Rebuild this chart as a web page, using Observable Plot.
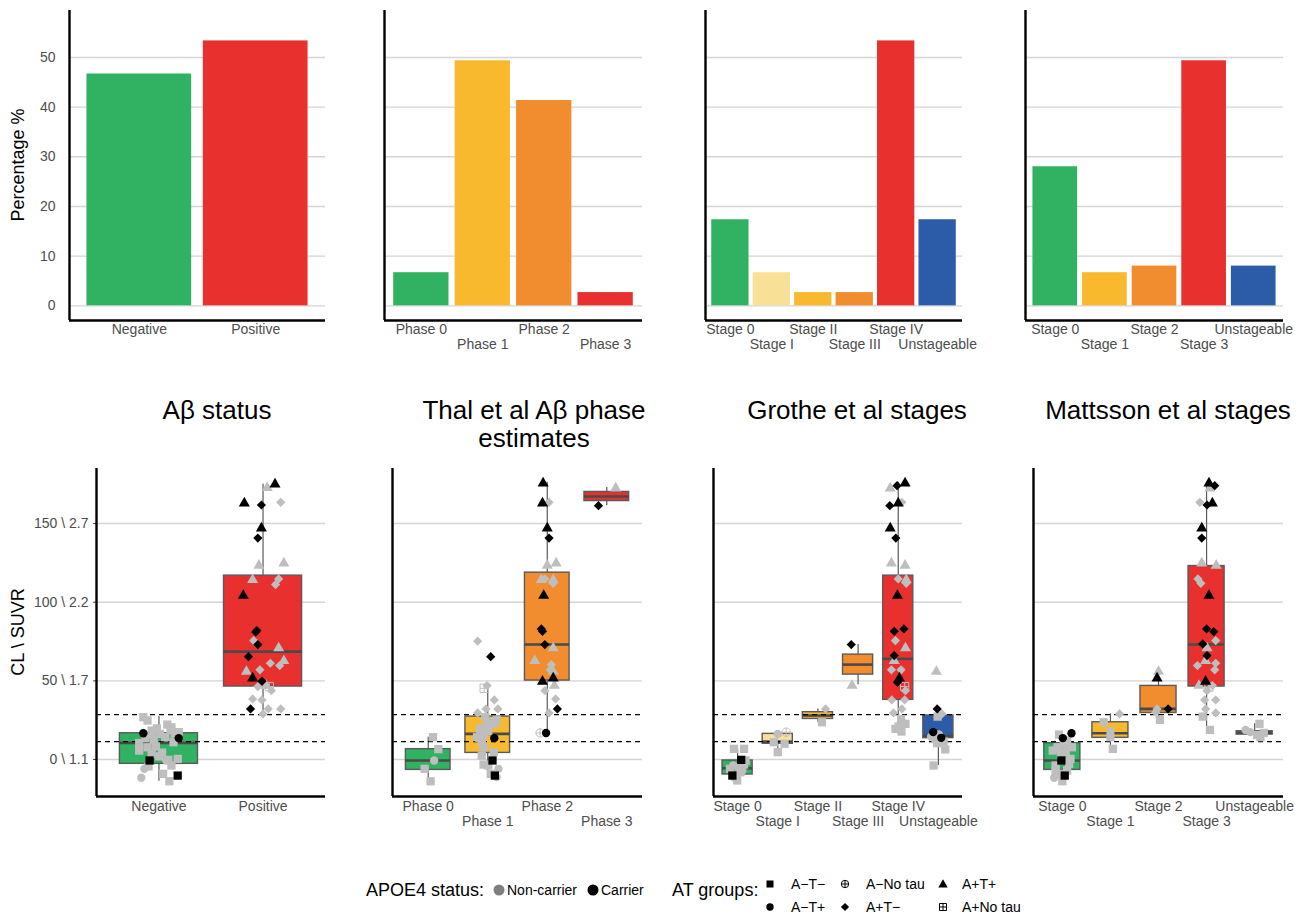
<!DOCTYPE html>
<html><head><meta charset="utf-8">
<script src="https://cdn.jsdelivr.net/npm/d3@7"></script>
<script src="https://cdn.jsdelivr.net/npm/@observablehq/plot@0.6"></script>
<style>
body{margin:0;background:#fff;font-family:"Liberation Sans",Arial,sans-serif;}
#root{position:relative;width:1313px;height:914px;overflow:hidden;}
.title{position:absolute;font-size:26px;line-height:28px;color:#000;text-align:center;transform:translateX(-50%);white-space:nowrap;}
.ytitle{position:absolute;font-size:18px;color:#000;white-space:nowrap;transform:translate(-50%,-50%) rotate(-90deg);}
.lg{position:absolute;white-space:nowrap;color:#000;transform:translateY(-50%);}
.lgt{font-size:18px;}
.lgl{font-size:14px;}
.lgs{position:absolute;transform:translate(-50%,-50%);}
</style></head><body><div id="root"></div>
<script>
// ---------------- DATA ----------------
// Top row: percentage of subjects per category
const abCats = ["Negative", "Positive"];
const abPct = [46.67, 53.33];
const thalCats = ["Phase 0", "Phase 1", "Phase 2", "Phase 3"];
const thalPct = [6.67, 49.33, 41.33, 2.67];
const grotheCats = ["Stage 0", "Stage I", "Stage II", "Stage III", "Stage IV", "Unstageable"];
const grothePct = [17.33, 6.67, 2.67, 2.67, 53.33, 17.33];
const mattCats = ["Stage 0", "Stage 1", "Stage 2", "Stage 3", "Unstageable"];
const mattPct = [28.0, 6.67, 8.0, 49.33, 8.0];

// Bottom row: box statistics (Centiloid)
const abQ1 = [-2.75, 46.4], abMed = [10.6, 68.6], abQ3 = [16.7, 116.9], abLo = [-13.8, 29], abHi = [27.3, 175];
const thalQ1 = [-6.6, 4.2, 50.2, 164.3], thalMed = [-0.6, 16.3, 73.1, 167.2], thalQ3 = [6.6, 27.3, 118.8, 170.1], thalLo = [-13.8, -11.6, 16.9, 161.4], thalHi = [14.2, 46.4, 176.2, 173];
const grotheQ1 = [-9.5, 10, 25.8, 54, 37.9, 13.6], grotheMed = [-5.5, 11.4, 27.95, 60.35, 64, 15], grotheQ3 = [-0.6, 16.3, 30.1, 66.7, 116.9, 28], grotheLo = [-14.4, 4.7, 23.7, 47.6, 17.8, -3.8], grotheHi = [6.8, 17.4, 32.2, 73.1, 176.2, 32.2];
const mattQ1 = [-6.6, 13.8, 29.6, 46.4, 15.9], mattMed = [-0.6, 16.7, 32.2, 73.1, 16.9], mattQ3 = [10.4, 23.7, 46.8, 123, 18], mattLo = [-13.8, 6.8, 25.2, 18.8, 14.2], mattHi = [16.7, 29, 56.5, 176.2, 22.7];

// Thresholds (dashed lines) and CL \ SUVR tick labels
const thresholds = [11.4, 28.6];
const clTicks = [0, 50, 100, 150];
const clTickLabels = ["0 \\ 1.1", "50 \\ 1.7", "100 \\ 2.2", "150 \\ 2.7"];
const pctTicks = [0, 10, 20, 30, 40, 50];

// Subjects: [category (1-based), jitter offset, CL, AT group, APOE4 carrier]
// AT: S=A−T−, C=A−T+, O=A−No tau, D=A+T−, T=A+T+, B=A+No tau
const abPts = [
[1,-0.15,26.9,"S",0],[1,-0.11,24.8,"S",0],[1,-0.07,18.4,"S",0],[1,0.08,22.2,"S",0],[1,0.11,18.8,"S",0],[1,0.19,17.4,"S",0],
[1,-0.15,16.7,"C",1],[1,0.19,13.6,"C",1],[1,-0.19,10.4,"S",0],[1,-0.19,5.7,"S",0],[1,-0.05,12.5,"S",0],[1,-0.03,8.3,"S",0],
[1,0.03,4.4,"S",0],[1,0.14,11,"S",0],[1,0.06,14.2,"S",0],[1,-0.07,15.9,"C",0],[1,0.09,-0.2,"S",0],[1,0.18,0.4,"S",0],
[1,0.07,-0.6,"C",0],[1,-0.09,-0.6,"S",1],[1,-0.1,-4.4,"S",0],[1,-0.14,-5.9,"C",0],[1,0.12,-3.8,"S",0],[1,0.04,-9.1,"S",0],
[1,0.1,-13.8,"S",0],[1,0.18,-10.2,"S",1],[1,-0.17,-11.6,"C",0],[1,0.01,16.3,"S",0],[1,0.15,16.5,"S",0],[1,-0.11,7.8,"S",0],
[1,-0.07,3.6,"S",0],[1,0.12,20.5,"S",0],[1,-0.02,19.8,"S",0],[1,0.0,2,"S",0],[1,-0.13,13.5,"S",0],
[2,-0.18,163.5,"T",1],[2,0.115,175.6,"T",1],[2,0.04,173.4,"T",0],[2,-0.016,161.8,"D",1],[2,0.17,163.5,"D",0],[2,-0.016,147.6,"T",1],
[2,-0.05,140.8,"D",1],[2,-0.04,123.9,"T",0],[2,0.2,125.4,"T",0],[2,-0.1,114.8,"T",0],[2,0.15,114.8,"D",0],[2,0.12,111.2,"D",0],
[2,-0.19,104.8,"T",1],[2,-0.06,82,"D",1],[2,-0.07,81,"D",1],[2,-0.09,75.6,"D",0],[2,-0.05,73.1,"D",1],[2,0.15,71.4,"T",0],
[2,-0.14,65.4,"D",1],[2,-0.03,57,"D",0],[2,-0.16,56.5,"T",0],[2,0.07,61.2,"D",0],[2,0.2,63.3,"T",0],[2,0.16,59.7,"D",0],
[2,-0.1,52.3,"T",1],[2,-0.01,49.8,"D",1],[2,0.06,46.4,"B",0],[2,-0.05,46.4,"D",0],[2,0.08,43.8,"D",0],[2,-0.1,38.5,"D",0],
[2,-0.01,37.9,"D",0],[2,-0.12,32.2,"D",1],[2,0.05,32.2,"D",0],[2,0.17,32.2,"D",0],[2,0,29,"D",0],[2,0.03,47.5,"T",0]
];
const thalPts = [
[1,0.08,14.2,"S",0],[1,0.17,6.6,"S",0],[1,0.1,-0.6,"C",0],[1,-0.06,-5.9,"S",0],[1,0.04,-13.8,"S",0],
[2,-0.17,75.2,"D",0],[2,0.05,65.4,"D",1],[2,-0.06,45.3,"B",0],[2,-0.01,47,"D",0],[2,0.11,37.9,"D",0],[2,-0.03,32.2,"D",0],
[2,0.17,32.2,"D",0],[2,-0.17,29.6,"D",0],[2,-0.04,26.9,"S",0],[2,0.15,25.2,"S",0],[2,0.07,23.7,"S",0],[2,-0.13,19.5,"S",0],
[2,-0.07,16.3,"S",0],[2,-0.14,13.8,"S",0],[2,0.01,18,"S",0],[2,0.11,13.6,"C",1],[2,-0.07,7.8,"S",0],[2,-0.1,11,"S",0],
[2,0.1,4.7,"S",0],[2,0.08,-0.6,"S",1],[2,-0.07,-3.2,"S",0],[2,0.01,-3.8,"S",0],[2,0.18,-5.9,"C",0],[2,0.05,-9.1,"S",0],
[2,0.12,-10.2,"S",1],[2,0.15,-11.2,"C",0],[2,-0.18,14.2,"S",0],[2,-0.02,21.6,"S",0],[2,0.11,22.7,"S",0],[2,-0.1,2.5,"S",0],
[3,-0.07,176.2,"T",1],[3,-0.08,163.5,"T",1],[3,0.03,163.5,"D",0],[3,0,147.6,"T",1],[3,0.03,140.8,"D",1],[3,0,123.9,"T",0],
[3,0.15,125.4,"T",0],[3,-0.1,114.8,"T",0],[3,0.1,114.8,"T",0],[3,0.1,112,"D",0],[3,-0.04,114.8,"D",0],[3,-0.06,104.8,"T",1],
[3,-0.1,83,"D",1],[3,-0.08,81.5,"D",1],[3,-0.04,73.1,"D",1],[3,0.1,71.4,"T",0],[3,-0.21,63.3,"T",0],[3,0.07,60.4,"D",0],
[3,0.05,57,"D",0],[3,0.1,56.5,"T",0],[3,-0.08,50.2,"T",1],[3,0.1,52.3,"T",1],[3,0.12,47.6,"T",0],[3,-0.04,43.8,"D",0],
[3,0.14,38.5,"D",0],[3,0.17,32.2,"D",1],[3,0.03,29.6,"D",0],[3,-0.12,16.9,"O",0],[3,-0.02,16.9,"C",1],
[4,0.15,173,"T",0],[4,-0.14,161.4,"D",1]
];
const grothePts = [
[1,-0.09,6.8,"S",0],[1,0.16,6.8,"S",0],[1,0.09,-0.2,"S",1],[1,-0.11,-3.8,"C",0],[1,0.03,-4.9,"S",0],[1,0.16,-3.2,"S",0],
[1,-0.13,-10.2,"S",1],[1,-0.01,-13.3,"S",0],[1,0.07,-8.1,"S",0],[1,-0.19,-5.9,"S",0],[1,0.12,-7,"C",0],[1,-0.05,-11.2,"S",0],[1,0.2,-0.6,"S",0],
[2,0,16.3,"C",0],[2,0.21,17.4,"O",0],[2,-0.1,11,"S",0],[2,0.17,10,"S",0],[2,0,4.7,"S",0],
[3,0.19,32.2,"D",0],[3,0.1,23.7,"S",0],
[4,-0.17,73.1,"D",1],[4,-0.15,47.6,"T",0],
[5,0.17,176.2,"T",1],[5,-0.03,174.1,"D",1],[5,-0.2,173,"T",0],[5,-0.21,161.4,"D",1],[5,0,163.5,"T",1],[5,0.09,163.5,"D",0],
[5,-0.2,147.6,"T",1],[5,-0.06,140.8,"D",1],[5,-0.17,125.4,"T",0],[5,0.17,123.9,"T",0],[5,0,114.8,"D",0],[5,0.2,112,"D",0],
[5,0.2,114.8,"T",0],[5,-0.02,104.8,"T",1],[5,-0.1,81.5,"D",1],[5,0.14,83,"D",1],[5,-0.07,75.6,"D",0],[5,0.18,71.4,"T",0],
[5,-0.1,66.1,"D",1],[5,-0.1,63.3,"T",0],[5,-0.17,57,"D",0],[5,0.07,57,"D",0],[5,0.03,52.3,"T",1],[5,-0.02,49.1,"D",1],
[5,0.16,46.4,"B",0],[5,0.18,43.8,"D",0],[5,-0.16,37.9,"D",0],[5,0.16,37.9,"D",0],[5,0.09,32.2,"D",0],[5,-0.12,29.6,"D",0],
[5,0.07,25.8,"S",0],[5,0.18,22.7,"S",0],[5,-0.07,19.5,"S",0],[5,0.08,17.8,"S",0],[5,0.01,21,"S",0],
[6,-0.05,56.5,"T",0],[6,-0.03,32.2,"D",1],[6,-0.02,27.3,"S",0],[6,0.09,29,"D",0],[6,-0.13,17.4,"C",1],[6,0.07,13.8,"C",1],
[6,-0.18,14.6,"C",0],[6,-0.03,10.4,"S",0],[6,0.17,6.4,"S",0],[6,-0.12,-3.8,"S",0],[6,0.01,16,"C",0],[6,-0.07,13.2,"S",0],[6,0.13,11.5,"S",0]
];
const mattPts = [
[1,0.19,16.7,"C",1],[1,0.01,13.6,"C",1],[1,-0.07,15.9,"S",0],[1,0.1,12.1,"S",0],[1,-0.1,7.8,"S",0],[1,0.07,4.7,"S",0],
[1,0.17,0.4,"S",0],[1,-0.02,-0.6,"S",1],[1,0.14,-2.8,"S",0],[1,-0.14,-3.8,"S",0],[1,0.1,-7,"S",0],[1,-0.14,-7,"S",0],
[1,0.05,-10.2,"S",1],[1,-0.17,-11.6,"C",0],[1,0,-13.8,"S",0],[1,-0.03,3.6,"S",0],[1,-0.2,5.7,"S",0],[1,0.2,7.8,"S",0],
[1,0.03,10,"S",0],[1,0.1,-0.6,"C",0],[1,-0.07,-9.1,"S",0],
[2,0.19,29,"D",0],[2,-0.14,23.7,"S",0],[2,0,18,"C",0],[2,0,14.2,"S",0],[2,0.05,6.8,"S",0],
[3,0,56.5,"T",0],[3,-0.03,52.3,"T",1],[3,-0.03,32.2,"D",0],[3,0.2,32.2,"D",1],[3,0.03,25.2,"S",0],[3,-0.06,30.1,"D",0],
[4,0.05,176.2,"T",1],[4,0.17,174.1,"D",1],[4,0.07,173,"T",0],[4,-0.14,163.5,"D",0],[4,0.01,161.8,"D",1],[4,0.12,163.5,"T",1],
[4,-0.1,147.6,"T",1],[4,-0.1,140.8,"D",1],[4,-0.1,125.4,"T",0],[4,0.2,123.9,"T",0],[4,-0.18,114.8,"D",0],[4,-0.12,112,"D",0],
[4,0.05,104.8,"T",1],[4,0,83,"D",1],[4,0.15,81.3,"D",1],[4,0.19,75.6,"D",0],[4,-0.08,73.5,"D",1],[4,0.01,71.4,"T",0],
[4,0.01,66.1,"D",1],[4,-0.02,63.3,"T",0],[4,0.19,61.2,"D",0],[4,-0.19,59.7,"D",0],[4,0.17,57,"D",0],[4,-0.02,50.2,"T",1],
[4,-0.16,47.6,"T",0],[4,0.05,46,"B",0],[4,0.12,47,"D",0],[4,0.01,43.8,"D",0],[4,0.19,37.9,"D",0],[4,-0.04,37.9,"D",0],
[4,-0.02,32.2,"D",0],[4,0.19,29.6,"D",0],[4,-0.08,27.3,"S",0],[4,0.07,18.8,"S",0],
[5,0.1,22.7,"S",0],[5,-0.19,18.8,"C",0],[5,-0.09,17.4,"C",0],[5,0.12,14.2,"S",0],[5,0.19,16.9,"S",0],[5,0.05,15.6,"S",0]
];

// ---------------- STYLE ----------------
const GREEN = "#31b262", RED = "#e8312f", YELLOW = "#f8b92e", ORANGE = "#f18c2f", PALE = "#f8e196", BLUE = "#2c5ba8";
const abColors = [GREEN, RED];
const thalColors = [GREEN, YELLOW, ORANGE, RED];
const grotheColors = [GREEN, PALE, YELLOW, ORANGE, RED, BLUE];
const mattColors = [GREEN, YELLOW, ORANGE, RED, BLUE];
const PT_GRAY = "#bebebe";
const FONT = "'Liberation Sans', Arial, sans-serif";
const TICK_FS = 14;

const SYM = {
  S: {draw(c, s){ const r = Math.sqrt(s/Math.PI)*0.9; c.rect(-r,-r,2*r,2*r); }},
  C: {draw(c, s){ const r = Math.sqrt(s/Math.PI)*0.95; c.moveTo(r,0); c.arc(0,0,r,0,2*Math.PI); }},
  D: {draw(c, s){ const r = Math.sqrt(s/Math.PI)*1.05; c.moveTo(0,-r); c.lineTo(r,0); c.lineTo(0,r); c.lineTo(-r,0); c.closePath(); }},
  T: {draw(c, s){ const r = Math.sqrt(s/Math.PI); c.moveTo(0,-1.2*r); c.lineTo(1.2*r,0.9*r); c.lineTo(-1.2*r,0.9*r); c.closePath(); }},
  O: {draw(c, s){ const r = Math.sqrt(s/Math.PI)*0.95; c.moveTo(r,0); c.arc(0,0,r,0,2*Math.PI); c.moveTo(-r,0); c.lineTo(r,0); c.moveTo(0,-r); c.lineTo(0,r); }},
  B: {draw(c, s){ const r = Math.sqrt(s/Math.PI)*0.9; c.rect(-r,-r,2*r,2*r); c.moveTo(-r,0); c.lineTo(r,0); c.moveTo(0,-r); c.lineTo(0,r); }}
};
const HOLLOW = {O: true, B: true};
const RAD = {S: 4.6, C: 4.4, D: 4.4, T: 4.6, O: 4.4, B: 4.6};

const root = document.getElementById("root");
function place(el, left, top) { el.style.position = "absolute"; el.style.left = left + "px"; el.style.top = top + "px"; root.appendChild(el); }

const topLayout = [{left:0,width:330,ml:69,mr:5},{left:330,width:330,ml:54,mr:18},{left:660,width:330,ml:45,mr:28},{left:990,width:323,ml:35,mr:30}];
const botLayout = [{left:0,width:330,ml:96,mr:5},{left:330,width:330,ml:62,mr:18},{left:660,width:330,ml:53,mr:28},{left:990,width:323,ml:43,mr:30}];

function xAxes(cats, stagger, pad) {
  const idx = cats.map((_, i) => i + 1);
  const r1 = stagger ? idx.filter(i => i % 2 === 1) : idx;
  const r2 = stagger ? idx.filter(i => i % 2 === 0) : [];
  const common = {tickFormat: d => cats[d - 1], tickSize: 0, tickPadding: pad, fontSize: TICK_FS, fill: "#4d4d4d", label: null};
  const out = [Plot.axisX({...common, ticks: r1})];
  if (r2.length) out.push(Plot.axisX({...common, ticks: r2, dy: 15}));
  return out;
}

function topPanel(cats, pct, colors, lay, withY) {
  const n = cats.length;
  const data = cats.map((c, i) => ({c, i: i + 1, v: pct[i]}));
  return Plot.plot({
    width: lay.width, height: 360, marginLeft: lay.ml, marginRight: lay.mr, marginTop: 10, marginBottom: 40,
    style: {background: "transparent", overflow: "visible", fontFamily: FONT},
    x: {domain: [0.4, n + 0.6], axis: null},
    y: {domain: [-2.95, 59.45], axis: null},
    color: {domain: cats, range: colors},
    marks: [
      Plot.ruleY(pctTicks, {stroke: "#d4d4d4", strokeWidth: 1.4}),
      Plot.rect(data, {x1: d => d.i - 0.45, x2: d => d.i + 0.45, y1: 0, y2: "v", fill: "c"}),
      withY ? Plot.axisY({ticks: pctTicks, tickSize: 0, tickPadding: 14, fontSize: TICK_FS, fill: "#4d4d4d", label: null}) : null,
      ...xAxes(cats, n > 2, 4),
      Plot.ruleX([0.4], {stroke: "#000", strokeWidth: 2.4}),
      Plot.ruleY([-2.95], {stroke: "#000", strokeWidth: 2.4})
    ]
  });
}

function botPanel(cats, colors, q1, med, q3, lo, hi, pts, lay, withY) {
  const n = cats.length;
  const boxes = cats.map((c, i) => ({c, i: i + 1, q1: q1[i], med: med[i], q3: q3[i], lo: lo[i], hi: hi[i]}));
  const P = pts.map(([c, off, v, s, k]) => ({x: c + off, v, s, k}));
  const dots = [];
  for (const k of [0, 1]) for (const s of ["S", "C", "O", "D", "T", "B"]) {
    const sub = P.filter(d => d.k === k && d.s === s);
    if (!sub.length) continue;
    const col = k ? "#000" : PT_GRAY;
    dots.push(Plot.dot(sub, {x: "x", y: "v", r: RAD[s], symbol: SYM[s],
      fill: HOLLOW[s] ? "none" : col, stroke: HOLLOW[s] ? col : "none", strokeWidth: 1}));
  }
  return Plot.plot({
    width: lay.width, height: 380, marginLeft: lay.ml, marginRight: lay.mr, marginTop: 8, marginBottom: 44,
    style: {background: "transparent", overflow: "visible", fontFamily: FONT},
    x: {domain: [0.4, n + 0.6], axis: null},
    y: {domain: [-23.5, 185], axis: null},
    color: {domain: cats, range: colors},
    marks: [
      Plot.ruleY(clTicks, {stroke: "#d4d4d4", strokeWidth: 1.4}),
      Plot.ruleX(boxes, {x: "i", y1: "lo", y2: "q1", stroke: "#5a5a5a", strokeWidth: 1.2}),
      Plot.ruleX(boxes, {x: "i", y1: "q3", y2: "hi", stroke: "#5a5a5a", strokeWidth: 1.2}),
      Plot.rect(boxes, {x1: d => d.i - 0.375, x2: d => d.i + 0.375, y1: "q1", y2: "q3", fill: "c", stroke: "#5a5a5a", strokeWidth: 1.4}),
      Plot.ruleY(boxes, {y: "med", x1: d => d.i - 0.375, x2: d => d.i + 0.375, stroke: "#4a4a4a", strokeWidth: 2.6}),
      Plot.ruleY(thresholds, {stroke: "#000", strokeWidth: 1.2, strokeDasharray: "5,4"}),
      ...dots,
      withY ? Plot.axisY({ticks: clTicks, tickFormat: d => clTickLabels[clTicks.indexOf(d)], tickSize: 3, tickPadding: 5, stroke: "#444", fontSize: TICK_FS, fill: "#4d4d4d", label: null}) : null,
      ...xAxes(cats, n > 2, 5),
      Plot.ruleX([0.4], {stroke: "#000", strokeWidth: 2.4}),
      Plot.ruleY([-23.5], {stroke: "#000", strokeWidth: 2.4})
    ]
  });
}

const panels = [
  [abCats, abPct, abColors, abQ1, abMed, abQ3, abLo, abHi, abPts],
  [thalCats, thalPct, thalColors, thalQ1, thalMed, thalQ3, thalLo, thalHi, thalPts],
  [grotheCats, grothePct, grotheColors, grotheQ1, grotheMed, grotheQ3, grotheLo, grotheHi, grothePts],
  [mattCats, mattPct, mattColors, mattQ1, mattMed, mattQ3, mattLo, mattHi, mattPts]
];
panels.forEach((p, j) => {
  const [cats, pct, colors, q1, med, q3, lo, hi, pts] = p;
  place(topPanel(cats, pct, colors, topLayout[j], j === 0), topLayout[j].left, 0);
  place(botPanel(cats, colors, q1, med, q3, lo, hi, pts, botLayout[j], j === 0), botLayout[j].left, 460);
});

// Titles
const titles = ["Aβ status", "Thal et al Aβ phase<br>estimates", "Grothe et al stages", "Mattsson et al stages"];
const titleX = [217, 534, 857, 1168];
titles.forEach((t, j) => { const d = document.createElement("div"); d.className = "title"; d.innerHTML = t; place(d, titleX[j], 396); });

// Axis titles
const yt1 = document.createElement("div"); yt1.className = "ytitle"; yt1.textContent = "Percentage %"; place(yt1, 18, 165);
const yt2 = document.createElement("div"); yt2.className = "ytitle"; yt2.textContent = "CL \\ SUVR"; place(yt2, 18, 632);

// Legend
function symSvg(s, col, r) {
  const ns = "http://www.w3.org/2000/svg";
  const svg = document.createElementNS(ns, "svg");
  svg.setAttribute("width", 16); svg.setAttribute("height", 16); svg.setAttribute("viewBox", "-8 -8 16 16");
  const path = document.createElementNS(ns, "path");
  path.setAttribute("d", d3.symbol(SYM[s], r * r * Math.PI)());
  if (HOLLOW[s]) { path.setAttribute("fill", "none"); path.setAttribute("stroke", col); path.setAttribute("stroke-width", 1); }
  else path.setAttribute("fill", col);
  svg.appendChild(path); svg.classList.add("lgs");
  return svg;
}
function txt(cls, t, x, y) { const d = document.createElement("div"); d.className = "lg " + cls; d.textContent = t; place(d, x, y); }
txt("lgt", "APOE4 status:", 366, 890);
place(symSvg("C", "#7f7f7f", 5.8), 499, 890); txt("lgl", "Non-carrier", 507, 890);
place(symSvg("C", "#000", 5.8), 593, 890); txt("lgl", "Carrier", 601, 890);
txt("lgt", "AT groups:", 672, 890);
const atLegend = [["S", "A−T−"], ["C", "A−T+"], ["O", "A−No tau"], ["D", "A+T−"], ["T", "A+T+"], ["B", "A+No tau"]];
const lgCol = [770, 845, 943], lgLab = [791, 866, 962], lgRow = [884, 907];
atLegend.forEach(([s, lab], i) => {
  const c = Math.floor(i / 2), r = i % 2;
  place(symSvg(s, "#000", 3.9), lgCol[c], lgRow[r]);
  txt("lgl", lab, lgLab[c], lgRow[r]);
});
</script></body></html>
